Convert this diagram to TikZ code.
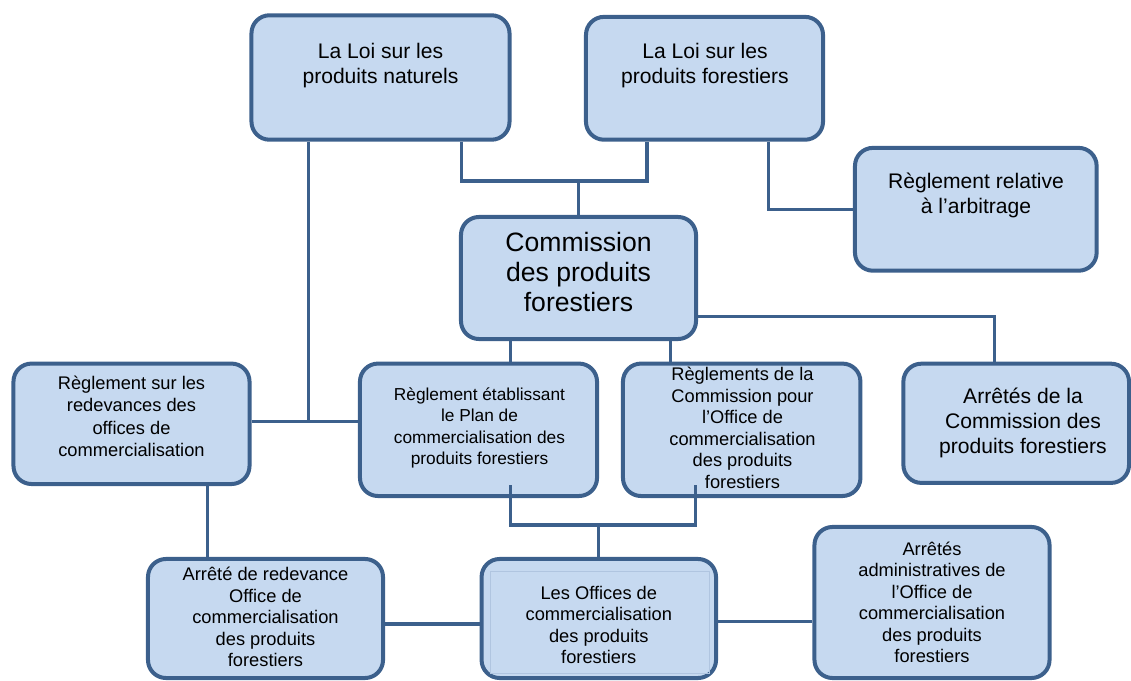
\documentclass[tikz,border=0pt]{standalone}
\usepackage{fontspec}
\setmainfont{Liberation Sans}
\usepackage{xcolor}
\definecolor{fond}{RGB}{198,217,240}
\definecolor{bordure}{RGB}{60,96,140}
\definecolor{filet}{RGB}{176,197,224}
\tikzset{
 boite/.style={draw=bordure, fill=fond, line width=2.85pt, rounded corners=0.45cm, inner sep=0pt},
 grand/.style={align=center, font=\fontsize{15}{17.8}\selectfont},
 petit/.style={align=center, font=\fontsize{13}{15.3}\selectfont},
 lien/.style={draw=bordure, line width=2.2pt},
}

\begin{document}
\begin{tikzpicture}[x=0.025cm, y=-0.025cm]
\useasboundingbox (0,0) rectangle (1131,681);
\foreach \nom/\x/\y/\w/\h in {lnat/380.5/77.5/6.45/3.11, lfor/704.5/78.3/5.925/3.07,
  rarb/975.8/209.3/6.04/3.07, cpf/578.5/278/5.875/3.05, rred/131.5/423.8/5.9/3.01,
  rpla/478.5/429.8/5.925/3.31, rcom/741.7/429.8/5.935/3.31, acpf/1016.2/423.3/5.64/2.98,
  ared/265.5/618.5/5.875/2.975, loff/598.8/618.5/5.86/2.975, aadm/932/602.5/5.875/3.775} {
 \node[boite, minimum width=\w cm, minimum height=\h cm] (\nom) at (\x,\y) {};
}
\draw[filet, line width=0.6pt] (490,571) rectangle (709,673);

\node[grand] (t-lnat) at (380.5,65.3) {La Loi sur les\\produits naturels};
\node[grand] (t-lfor) at (705,65.3) {La Loi sur les\\produits forestiers};
\node[grand] (t-rarb) at (976,195.5) {Règlement relative\\à l’arbitrage};
\node[align=center, font=\fontsize{18.9}{21.3}\selectfont] (t-cpf) at (578.5,271.7) {Commission\\des produits\\forestiers};
\node[petit, font=\fontsize{13}{15.9}\selectfont] (t-rred) at (131.5,416.5) {Règlement sur les\\redevances des\\offices de\\commercialisation};
\node[petit, font=\fontsize{12.3}{15.3}\selectfont] (t-rpla) at (479.5,428) {Règlement établissant\\le Plan de\\commercialisation des\\produits forestiers};
\node[petit] (t-rcom) at (742.5,428) {Règlements de la\\Commission pour\\l’Office de\\commercialisation\\des produits\\forestiers};
\node[grand] (t-acpf) at (1023,422.5) {Arrêtés de la\\Commission des\\produits forestiers};
\node[petit] (t-ared) at (265.5,617) {Arrêté de redevance\\Office de\\commercialisation\\des produits\\forestiers};
\node[petit] (t-loff) at (598.8,625) {Les Offices de\\commercialisation\\des produits\\forestiers};
\node[petit] (t-aadm) at (932,602.5) {Arrêtés\\administratives de\\l’Office de\\commercialisation\\des produits\\forestiers};

\coordinate (jg) at (308.8,421.7);
\coordinate (hg) at (461.8,181);
\coordinate (hd) at (647,181);
\coordinate (ja) at (768.6,208.3);
\coordinate (jb) at (994.5,316.7);
\coordinate (bg) at (510.5,525);
\coordinate (bd) at (695.7,525);
\coordinate (jc) at (207.8,0);
\coordinate (jd) at (670.2,0);
\coordinate (je) at (0,624);
\coordinate (jf) at (0,621.7);

\draw[lien] (lnat.south -| jg) -- (jg);
\draw[lien] (rred.east |- jg) -- (rpla.west |- jg);
\draw[lien] (lnat.south -| hg) -- (hg) -- (hd) -- (lfor.south -| hd);
\draw[lien] (cpf.north |- hg) -- (cpf.north);
\draw[lien] (lfor.south -| ja) |- (rarb.west);
\draw[lien] (cpf.east |- jb) -| (acpf.north -| jb);
\draw[lien] (cpf.south -| bg) -- (rpla.north -| bg);
\draw[lien] (cpf.south -| jd) -- (rcom.north -| jd);
\draw[lien] ([yshift=0.325cm]rpla.south -| bg) -- (bg) -- (bd) -- ([yshift=0.325cm]rcom.south -| bd);
\draw[lien] (loff.north |- bg) -- (loff.north);
\draw[lien] (rred.south -| jc) -- (ared.north -| jc);
\draw[lien] (ared.east |- je) -- (loff.west |- je);
\draw[lien] (loff.east |- jf) -- (aadm.west |- jf);
\end{tikzpicture}
\end{document}
